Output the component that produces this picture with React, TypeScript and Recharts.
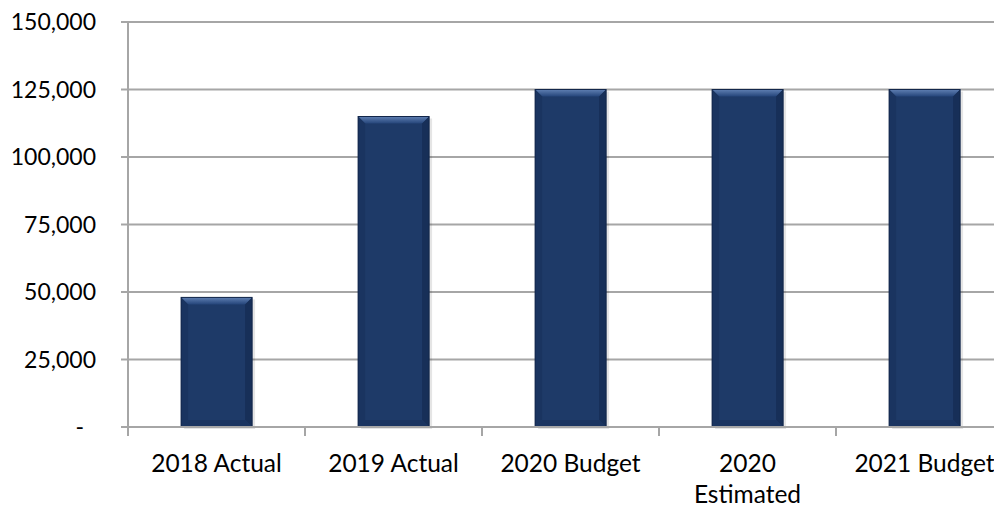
import React from "react";
import { BarChart, Bar, XAxis, YAxis, CartesianGrid } from "recharts";

const categories = ["2018 Actual", "2019 Actual", "2020 Budget", "2020 Estimated", "2021 Budget"];
const values = [48000, 115000, 125000, 125000, 125000];
const yTicks = [0, 25000, 50000, 75000, 100000, 125000, 150000];

const data = categories.map((c, i) => ({ name: c, value: values[i] }));

const CHART_W = 1030;
const CHART_H = 500;
const MARGIN = { top: 14, right: 25, left: 0, bottom: 11 };
const Y_W = 120;
const PLOT_W = CHART_W - MARGIN.left - MARGIN.right - Y_W;
const BAND = PLOT_W / categories.length;
const FONT = "Lato, 'Open Sans', sans-serif";
const GRID = "#a6a6a6";

const BevelBar = (props: any) => {
  const { x, y, width, height, index } = props;
  if (!height || height <= 0) return null;
  const b = Math.min(7, height / 2);
  const gid = `barTop${index}`;
  return (
    <g>
      <defs>
        <linearGradient id={gid} x1="0" y1="0" x2="0" y2="1">
          <stop offset="0%" stopColor="#5f7fb2" />
          <stop offset="100%" stopColor="#25457a" />
        </linearGradient>
      </defs>
      <rect x={x + 3} y={y + 2} width={width} height={height} fill="#000" fillOpacity={0.1} />
      <rect x={x} y={y} width={width} height={height} fill="#1e3a68" />
      <polygon
        points={`${x},${y} ${x + width},${y} ${x + width - b},${y + b} ${x + b},${y + b}`}
        fill={`url(#${gid})`}
      />
      <polygon
        points={`${x},${y} ${x + b},${y + b} ${x + b},${y + height - b} ${x},${y + height}`}
        fill="#1a3460"
      />
      <polygon
        points={`${x + width},${y} ${x + width - b},${y + b} ${x + width - b},${y + height - b} ${x + width},${y + height}`}
        fill="#172f58"
      />
      <polygon
        points={`${x},${y + height} ${x + b},${y + height - b} ${x + width - b},${y + height - b} ${x + width},${y + height}`}
        fill="#1a3460"
      />
      <rect x={x} y={y} width={width} height={height} fill="none" stroke="#12264a" strokeWidth={1} />
    </g>
  );
};

const XTick = (props: any) => {
  const { x, y, payload, index } = props;
  const label: string = payload.value;
  const words = label.split(" ");
  const lines = label.length > 12 ? words : [label];
  const lx = x - BAND / 2;
  return (
    <g>
      <line x1={lx} y1={y} x2={lx} y2={y + 9} stroke={GRID} strokeWidth={2} />
      {index === categories.length - 1 && (
        <line x1={x + BAND / 2} y1={y} x2={x + BAND / 2} y2={y + 9} stroke={GRID} strokeWidth={2} />
      )}
      <text x={x} y={y + 45} textAnchor="middle" fontFamily={FONT} fontSize={24.5} fill="#000">
        {lines.map((l, i) => (
          <tspan key={i} x={x} dy={i === 0 ? 0 : 31}>
            {l}
          </tspan>
        ))}
      </text>
    </g>
  );
};

const YTick = (props: any) => {
  const { x, y, payload } = props;
  const v: number = payload.value;
  const txt = v === 0 ? "-" : v.toLocaleString("en-US");
  return (
    <text
      x={v === 0 ? x - 12 : x}
      y={y}
      dy={8}
      textAnchor="end"
      fontFamily={FONT}
      fontSize={23}
      fill="#000"
    >
      {txt}
    </text>
  );
};

export default function App() {
  return (
    <div style={{ width: 994, height: 500, overflow: "hidden", background: "#fff" }}>
      <BarChart width={CHART_W} height={CHART_H} data={data} margin={MARGIN} barCategoryGap="30%">
        <CartesianGrid vertical={false} stroke={GRID} strokeWidth={2} />
        <XAxis
          dataKey="name"
          stroke={GRID}
          strokeWidth={2}
          tickLine={false}
          tickSize={0}
          tickMargin={0}
          height={70}
          interval={0}
          tick={<XTick />}
        />
        <YAxis
          width={Y_W}
          domain={[0, 150000]}
          ticks={yTicks}
          stroke={GRID}
          strokeWidth={2}
          tickSize={7}
          tickMargin={25}
          interval={0}
          tick={<YTick />}
        />
        <Bar dataKey="value" shape={<BevelBar />} isAnimationActive={false} />
      </BarChart>
    </div>
  );
}
